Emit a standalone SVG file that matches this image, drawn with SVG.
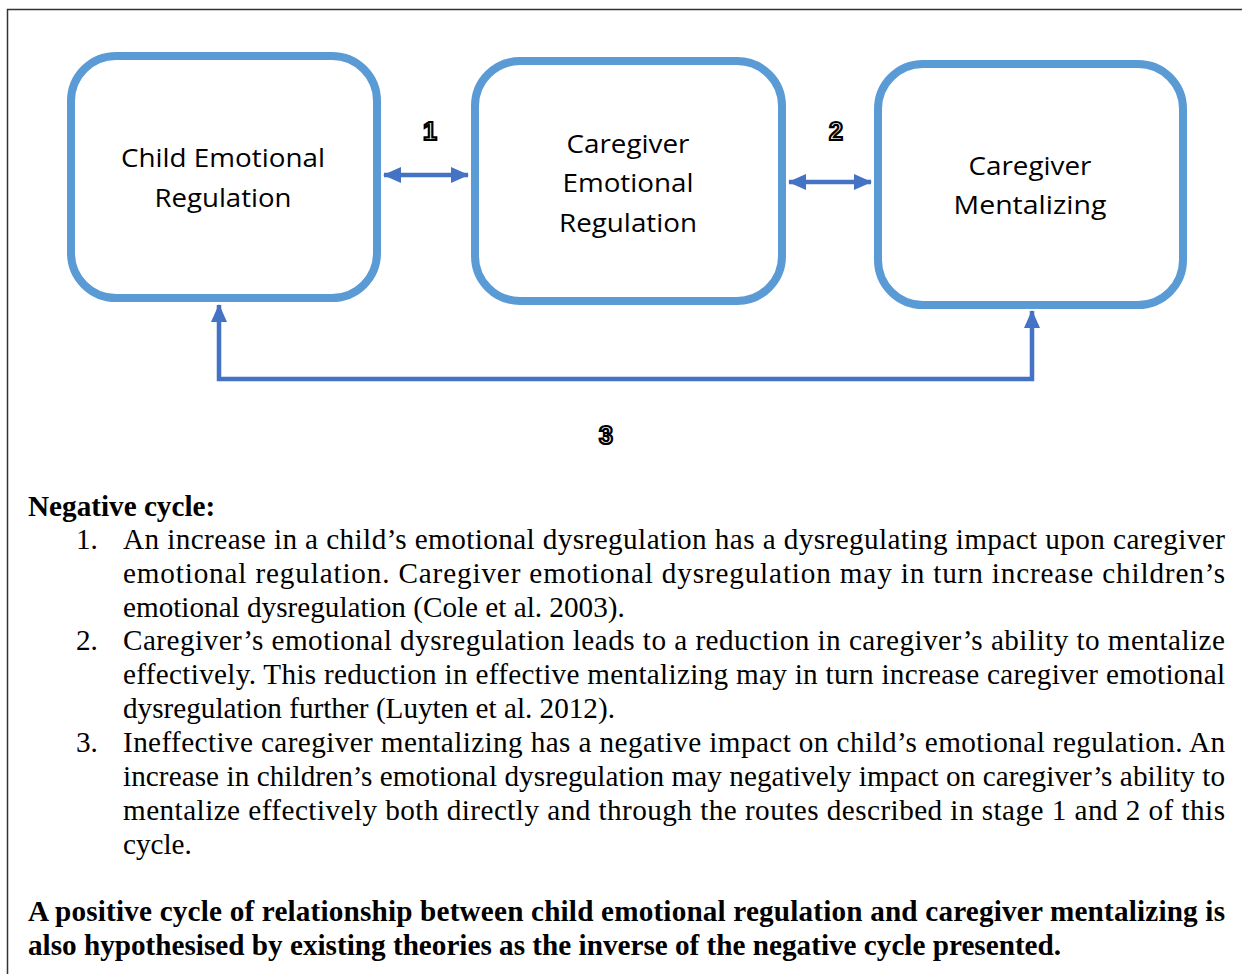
<svg xmlns="http://www.w3.org/2000/svg" width="1242" height="974" viewBox="0 0 1242 974">
<style>
.box{fill:#fff;stroke:#5B9BD5;stroke-width:8}
.lbl{font-family:"Open Sans","Liberation Sans",sans-serif;font-size:26px;fill:#000;text-anchor:middle}
.num{font-family:"Liberation Sans",sans-serif;font-weight:bold;font-size:25px;fill:#fff;stroke:#000;stroke-width:2.2;text-anchor:middle}
.con{fill:none;stroke:#4472C4;stroke-width:4.5}
.t{font-family:"Liberation Serif","Times New Roman",serif;font-size:29.2px;fill:#000}
.b{font-weight:bold}
</style>
<defs>
<marker id="ah" markerUnits="userSpaceOnUse" markerWidth="18" markerHeight="16" refX="17" refY="8" orient="auto-start-reverse" viewBox="0 0 18 16">
<path d="M0,0 L18,8 L0,16 z" fill="#4472C4"/>
</marker>
</defs>
<rect width="1242" height="974" fill="#fff"/>
<path d="M7.5,974 V9.5 H1242" fill="none" stroke="#333" stroke-width="1.5"/>

<g id="connectors">
<path class="con" d="M384,175 H468" marker-start="url(#ah)" marker-end="url(#ah)"/>
<path class="con" d="M789,182 H871" marker-start="url(#ah)" marker-end="url(#ah)"/>
<path class="con" d="M219,305 V379 H1032 V311" marker-start="url(#ah)" marker-end="url(#ah)"/>
<text class="num" x="430" y="140">1</text>
<text class="num" x="836" y="140">2</text>
<text class="num" x="606" y="444">3</text>
</g>

<g id="node-child">
<rect class="box" x="71" y="56" width="306" height="242" rx="45"/>
<text class="lbl" x="223" y="167" textLength="204" lengthAdjust="spacingAndGlyphs">Child Emotional</text>
<text class="lbl" x="223" y="207" textLength="137" lengthAdjust="spacingAndGlyphs">Regulation</text>
</g>
<g id="node-caregiver-er">
<rect class="box" x="475" y="61" width="307" height="240" rx="45"/>
<text class="lbl" x="628" y="153" textLength="123" lengthAdjust="spacingAndGlyphs">Caregiver</text>
<text class="lbl" x="628" y="192" textLength="131" lengthAdjust="spacingAndGlyphs">Emotional</text>
<text class="lbl" x="628" y="232" textLength="138" lengthAdjust="spacingAndGlyphs">Regulation</text>
</g>
<g id="node-caregiver-m">
<rect class="box" x="878" y="64" width="305" height="241" rx="45"/>
<text class="lbl" x="1030" y="175" textLength="123" lengthAdjust="spacingAndGlyphs">Caregiver</text>
<text class="lbl" x="1030" y="214" textLength="153" lengthAdjust="spacingAndGlyphs">Mentalizing</text>
</g>

<g id="caption">
<text class="t b" x="28" y="516">Negative cycle:</text>
<text class="t" x="76" y="549">1.</text>
<text class="t" x="123" y="549" textLength="1102" lengthAdjust="spacing">An increase in a child’s emotional dysregulation has a dysregulating impact upon caregiver</text>
<text class="t" x="123" y="583" textLength="1102" lengthAdjust="spacing">emotional regulation. Caregiver emotional dysregulation may in turn increase children’s</text>
<text class="t" x="123" y="617">emotional dysregulation (Cole et al. 2003).</text>
<text class="t" x="76" y="650">2.</text>
<text class="t" x="123" y="650" textLength="1102" lengthAdjust="spacing">Caregiver’s emotional dysregulation leads to a reduction in caregiver’s ability to mentalize</text>
<text class="t" x="123" y="684" textLength="1102" lengthAdjust="spacing">effectively. This reduction in effective mentalizing may in turn increase caregiver emotional</text>
<text class="t" x="123" y="718">dysregulation further (Luyten et al. 2012).</text>
<text class="t" x="76" y="752">3.</text>
<text class="t" x="123" y="752" textLength="1102" lengthAdjust="spacing">Ineffective caregiver mentalizing has a negative impact on child’s emotional regulation. An</text>
<text class="t" x="123" y="786" textLength="1102" lengthAdjust="spacing">increase in children’s emotional dysregulation may negatively impact on caregiver’s ability to</text>
<text class="t" x="123" y="820" textLength="1102" lengthAdjust="spacing">mentalize effectively both directly and through the routes described in stage 1 and 2 of this</text>
<text class="t" x="123" y="854">cycle.</text>
<text class="t b" x="28" y="921" textLength="1197" lengthAdjust="spacing">A positive cycle of relationship between child emotional regulation and caregiver mentalizing is</text>
<text class="t b" x="28" y="955">also hypothesised by existing theories as the inverse of the negative cycle presented.</text>
</g>
</svg>
